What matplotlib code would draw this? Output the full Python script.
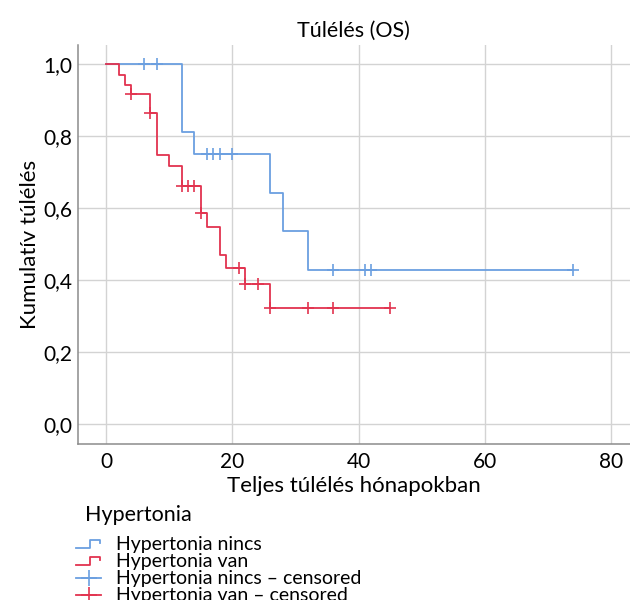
# Kaplan-Meier survival chart: Túlélés (OS) by hypertonia.
import numpy as np
import matplotlib
matplotlib.use("Agg")
import matplotlib.pyplot as plt
from matplotlib.lines import Line2D
from matplotlib.legend_handler import HandlerBase

plt.rcParams['font.family'] = ['Lato', 'DejaVu Sans']

# Data.
# Hypertonia nincs (blue)
nincs_event_t = [12, 14, 26, 28, 32]
nincs_surv = [0.8125, 0.75, 0.643, 0.536, 0.429]
nincs_end = 74
nincs_cens_t = [6, 8, 16, 17, 18, 20, 36, 41, 42, 74]

# Hypertonia van (red)
van_event_t = [2, 3, 4, 7, 8, 10, 12, 15, 16, 18, 19, 22, 26]
van_surv = [0.972, 0.944, 0.917, 0.864, 0.748, 0.718, 0.663, 0.588, 0.549, 0.470, 0.433, 0.389, 0.324]
van_end = 45
van_cens_t = [4, 7, 12, 13, 14, 15, 21, 22, 24, 26, 32, 36, 45]

x_ticks = [0, 20, 40, 60, 80]
y_ticks = [0.0, 0.2, 0.4, 0.6, 0.8, 1.0]
y_tick_labels = ["0,0", "0,2", "0,4", "0,6", "0,8", "1,0"]

labels = ["Hypertonia nincs", "Hypertonia van",
          "Hypertonia nincs – censored", "Hypertonia van – censored"]

BLUE = "#6b9fe0"
RED = "#e2334f"


def step_points(event_t, surv, end):
    t = np.array([0] + list(event_t) + [end])
    s = np.array([1.0] + list(surv) + [surv[-1]])
    return t, s


def surv_at(event_t, surv, times):
    s = np.array([1.0] + list(surv))
    idx = np.searchsorted(np.array(event_t), np.array(times), side="right")
    return s[idx]


# Legend handle that draws a little step shape.
class StepHandler(HandlerBase):
    def create_artists(self, legend, orig_handle, xdescent, ydescent,
                       width, height, fontsize, trans):
        x0 = -xdescent
        y0 = -ydescent
        xs = [x0, x0 + 0.55 * width, x0 + 0.55 * width, x0 + 0.95 * width, x0 + 0.95 * width]
        ys = [y0 + 0.15 * height, y0 + 0.15 * height, y0 + 0.75 * height,
              y0 + 0.75 * height, y0 + 0.55 * height]
        line = Line2D(xs, ys, color=orig_handle.get_color(),
                      lw=orig_handle.get_linewidth(), transform=trans)
        return [line]


fig = plt.figure(figsize=(6.3, 6.0), dpi=100)
ax = fig.add_axes([0.1233, 0.26, 0.8767, 0.665])

t, s = step_points(nincs_event_t, nincs_surv, nincs_end)
blue_line, = ax.step(t, s, where="post", color=BLUE, lw=1.3)
t, s = step_points(van_event_t, van_surv, van_end)
red_line, = ax.step(t, s, where="post", color=RED, lw=1.3)

ax.plot(nincs_cens_t, surv_at(nincs_event_t, nincs_surv, nincs_cens_t),
        ls="none", marker="+", ms=9, mew=1.2, color=BLUE)
ax.plot(van_cens_t, surv_at(van_event_t, van_surv, van_cens_t),
        ls="none", marker="+", ms=9, mew=1.2, color=RED)

ax.set_xlim(-4.5, 83)
ax.set_ylim(-0.055, 1.054)
ax.set_xticks(x_ticks)
ax.set_yticks(y_ticks)
ax.set_yticklabels(y_tick_labels)
ax.grid(True, color="#d3d3d3", lw=1)
ax.set_axisbelow(True)
ax.tick_params(length=0, labelsize=15, pad=4)
ax.tick_params(axis="x", pad=6)
for side in ["top", "right"]:
    ax.spines[side].set_visible(False)
for side in ["left", "bottom"]:
    ax.spines[side].set_color("#8c8c8c")
    ax.spines[side].set_linewidth(1.1)

ax.set_title("Túlélés (OS)", fontsize=15.5, pad=6)
ax.set_xlabel("Teljes túlélés hónapokban", fontsize=16, labelpad=3)
ax.set_ylabel("Kumulatív túlélés", fontsize=16, labelpad=2)

# legend title as its own text, entries below it
fig.text(85 / 630, 1 - 515 / 600, "Hypertonia", fontsize=15.5, va="center", ha="left")

handles = [
    Line2D([], [], color=BLUE, lw=1.3),
    Line2D([], [], color=RED, lw=1.3),
    Line2D([], [], color=BLUE, lw=1.3, marker="+", ms=11, mew=1.2),
    Line2D([], [], color=RED, lw=1.3, marker="+", ms=11, mew=1.2),
]
leg = fig.legend(handles, labels, loc="upper left",
                 bbox_to_anchor=(76 / 630, 0.106), frameon=False,
                 fontsize=14, handlelength=1.3, handletextpad=0.75,
                 labelspacing=0.0, borderpad=0, borderaxespad=0,
                 handler_map={handles[0]: StepHandler(), handles[1]: StepHandler()})

fig.savefig("out.png", dpi=100)
